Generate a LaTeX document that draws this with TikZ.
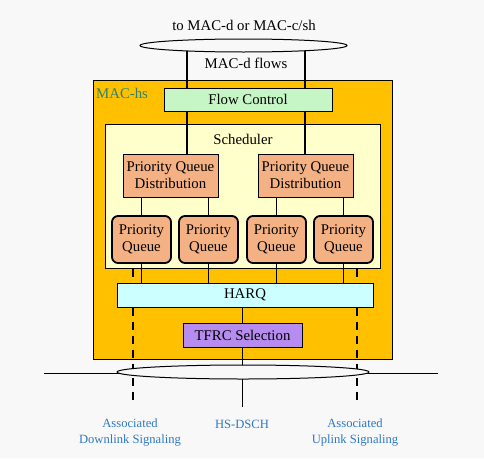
\documentclass[tikz,border=0pt]{standalone}
\usepackage{fontspec}
\setmainfont{Liberation Serif}
\usetikzlibrary{shapes.geometric}

\definecolor{bgcol}{RGB}{248,248,248}
\definecolor{machscol}{RGB}{255,192,0}
\definecolor{flowcol}{RGB}{198,245,198}
\definecolor{schedcol}{RGB}{255,255,204}
\definecolor{queuecol}{RGB}{244,177,131}
\definecolor{harqcol}{RGB}{204,255,255}
\definecolor{tfrccol}{RGB}{183,140,240}
\definecolor{machstext}{RGB}{46,130,110}
\definecolor{sigtext}{RGB}{46,120,196}

\tikzset{
  txt/.style={font=\fontsize{14.8}{17}\selectfont, align=center, inner sep=0pt},
  box/.style={txt, draw, line width=1pt},
  pqd/.style={box, fill=queuecol, minimum width=95pt, minimum height=43pt},
  pq/.style={box, fill=queuecol, line width=1.8pt, rounded corners=6pt,
    minimum width=59pt, minimum height=47pt},
  link/.style={line width=1.6pt},
  siglink/.style={line width=1.6pt, dash pattern=on 8pt off 6pt},
  chan/.style={draw, ellipse, fill=bgcol, line width=1pt, inner sep=0pt},
  siglabel/.style={font=\fontsize{12.6}{16}\selectfont, align=center,
    inner sep=0pt, text=sigtext}
}

\begin{document}
\begin{tikzpicture}[x=1pt, y=-1pt]
    \useasboundingbox (0,0) rectangle (484,458);
    \fill[bgcol] (0,0) rectangle (484,458);

    % boxes
    \node[box, fill=machscol, minimum width=299pt, minimum height=279pt] (machs) at (242.5,219.5) {};
    \node[txt, anchor=west, text=machstext] (machslabel) at (96,93) {MAC-hs};
    \node[box, fill=flowcol, minimum width=168pt, minimum height=23pt] (flow) at (248,99.5) {Flow Control};
    \node[box, fill=schedcol, minimum width=275pt, minimum height=144pt] (sched) at (242.5,196) {};
    \node[txt] (schedlabel) at (243,139) {Scheduler};
    \node[pqd] (pqdL) at (170.5,175.5) {Priority Queue\\Distribution};
    \node[pqd] (pqdR) at (305.5,175.5) {Priority Queue\\Distribution};
    \node[pq] (pq1) at (141.5,239.5) {Priority\\Queue};
    \node[pq] (pq2) at (208.5,239.5) {Priority\\Queue};
    \node[pq] (pq3) at (276.5,239.5) {Priority\\Queue};
    \node[pq] (pq4) at (343.5,239.5) {Priority\\Queue};
    \node[box, fill=harqcol, minimum width=256pt, minimum height=24pt] (harq) at (245,295) {HARQ};
    \node[box, fill=tfrccol, minimum width=119pt, minimum height=24pt] (tfrc) at (242.5,335) {TFRC Selection};

    % texts outside
    \node[txt] (totext) at (244,25) {to MAC-d or MAC-c/sh};
    \node[txt] (flowtext) at (246,63) {MAC-d flows};

    % free ends
    \coordinate (flowinL) at (187,46);
    \coordinate (flowinR) at (305,46);
    \coordinate (dlend) at (133,403);
    \coordinate (ulend) at (357,403);
    \coordinate (hsend) at (242.5,407);
    \coordinate (lineL) at (44,373);
    \coordinate (lineR) at (438,373);

    % MAC-d flows
    \draw[link] (flowinL) -- (flow.north -| flowinL);
    \draw[link] (flowinR) -- (flow.north -| flowinR);
    \draw[link] (flow.south -| flowinL) -- (pqdL.north -| flowinL);
    \draw[link] (flow.south -| flowinR) -- (pqdR.north -| flowinR);

    % queues
    \draw[link] (pqdL.south -| pq1.north) -- (pq1.north);
    \draw[link] (pqdL.south -| pq2.north) -- (pq2.north);
    \draw[link] (pqdR.south -| pq3.north) -- (pq3.north);
    \draw[link] (pqdR.south -| pq4.north) -- (pq4.north);
    \foreach \q in {pq1,pq2,pq3,pq4}
        \draw[link] (\q.south) -- (harq.north -| \q.south);

    % signaling
    \draw[siglink] (sched.south -| dlend) -- (harq.north -| dlend);
    \draw[siglink] (sched.south -| ulend) -- (harq.north -| ulend);
    \draw[siglink] (harq.south -| dlend) -- (dlend);
    \draw[siglink] (harq.south -| ulend) -- (ulend);

    % HS-DSCH
    \draw[link] (harq.south -| tfrc.north) -- (tfrc.north);
    \draw[link] (tfrc.south) -- (hsend);

    % transport channels
    \draw[line width=1pt] (lineL) -- (lineR);
    \node[chan, minimum width=207pt, minimum height=13pt] (topell) at (243.5,45.5) {};
    \node[chan, minimum width=252pt, minimum height=14pt] (botell) at (243,372) {};

    \node[siglabel] (dllabel) at (130,432) {Associated\\Downlink Signaling};
    \node[siglabel] (hslabel) at (242,424) {HS-DSCH};
    \node[siglabel] (ullabel) at (355,432) {Associated\\Uplink Signaling};
\end{tikzpicture}
\end{document}
